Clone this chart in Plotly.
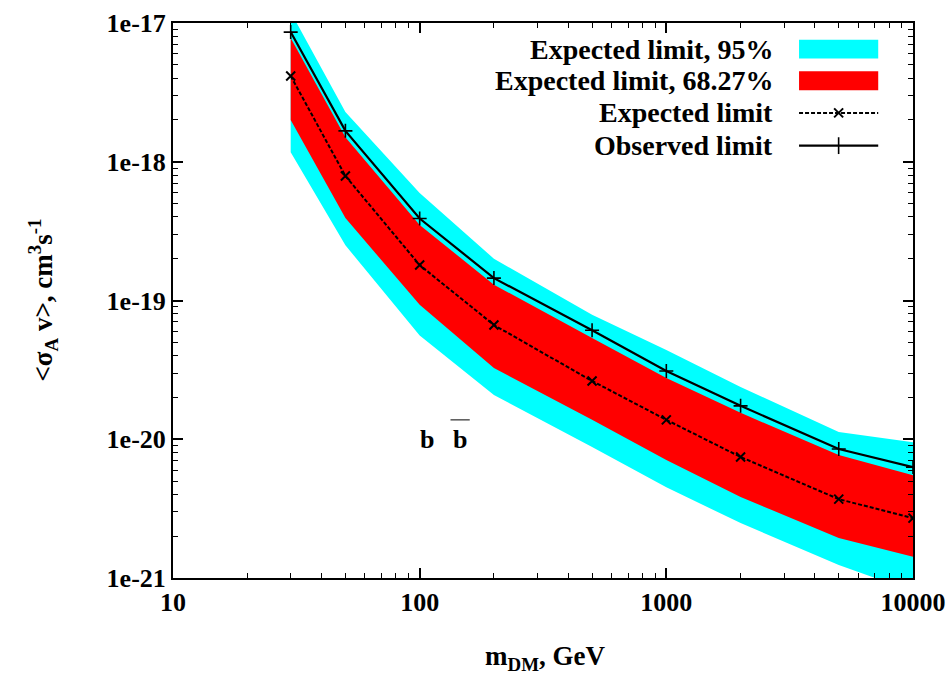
import plotly.graph_objects as go

# Upper limits on the annihilation cross-section, b b-bar channel
mass = [30, 50, 100, 200, 500, 1000, 2000, 5000, 10000]
observed = [8.6e-18, 1.67e-18, 3.9e-19, 1.45e-19, 6.1e-20, 3.1e-20, 1.74e-20, 8.5e-21, 6.3e-21]
expected = [4.15e-18, 7.9e-19, 1.8e-19, 6.66e-20, 2.63e-20, 1.38e-20, 7.45e-21, 3.7e-21, 2.7e-21]
band95_hi = [1.2e-17, 2.28e-18, 5.95e-19, 2.0e-19, 7.9e-20, 4.4e-20, 2.38e-20, 1.13e-20, 9.5e-21]
band68_hi = [7.8e-18, 1.5e-18, 3.5e-19, 1.3e-19, 5.37e-20, 2.76e-20, 1.55e-20, 7.7e-21, 5.5e-21]
band68_lo = [2.0e-18, 3.93e-19, 9.3e-20, 3.26e-20, 1.38e-20, 7.1e-21, 3.84e-21, 1.94e-21, 1.42e-21]
band95_lo = [1.17e-18, 2.5e-19, 5.6e-20, 2.08e-20, 8.8e-21, 4.5e-21, 2.49e-21, 1.24e-21, 8e-22]

x_ticks = [10, 100, 1000, 10000]
x_ticktext = ["10", "100", "1000", "10000"]
y_ticks = [1e-21, 1e-20, 1e-19, 1e-18, 1e-17]
y_ticktext = ["1e-21", "1e-20", "1e-19", "1e-18", "1e-17"]

legend_labels = ["Expected limit, 95%", "Expected limit, 68.27%", "Expected limit", "Observed limit"]

CYAN = "#00ffff"
RED = "#ff0000"
FONT = "Liberation Serif"
DASH = "4px,2px"

fig = go.Figure()

# 95% band
fig.add_trace(go.Scatter(x=mass, y=band95_lo, mode="lines", line=dict(width=0, color=CYAN),
                         showlegend=False, hoverinfo="skip"))
fig.add_trace(go.Scatter(x=mass, y=band95_hi, mode="lines", line=dict(width=0, color=CYAN),
                         fill="tonexty", fillcolor=CYAN, showlegend=False, hoverinfo="skip"))
# 68.27% band
fig.add_trace(go.Scatter(x=mass, y=band68_lo, mode="lines", line=dict(width=0, color=RED),
                         showlegend=False, hoverinfo="skip"))
fig.add_trace(go.Scatter(x=mass, y=band68_hi, mode="lines", line=dict(width=0, color=RED),
                         fill="tonexty", fillcolor=RED, showlegend=False, hoverinfo="skip"))
# Expected limit
fig.add_trace(go.Scatter(x=mass, y=expected, mode="lines+markers",
                         line=dict(color="black", width=2, dash=DASH),
                         marker=dict(symbol="x-thin", size=9, line=dict(color="black", width=2)),
                         showlegend=False))
# Observed limit
fig.add_trace(go.Scatter(x=mass, y=observed, mode="lines+markers",
                         line=dict(color="black", width=2.2),
                         marker=dict(symbol="cross-thin", size=10, line=dict(color="black", width=1.6)),
                         showlegend=False))

def minor_vals(lo_exp, hi_exp):
    return [m * 10 ** e for e in range(lo_exp, hi_exp) for m in range(2, 10)]

axis_common = dict(
    type="log", showgrid=False, zeroline=False,
    showline=True, linecolor="black", linewidth=2, mirror="allticks",
    ticks="inside", ticklen=10, tickwidth=1.5, tickcolor="black",
    tickfont=dict(family=FONT, size=26, color="black", weight="bold"),
    tickmode="array", automargin=False,
)

fig.update_xaxes(range=[1, 4], tickvals=x_ticks, ticktext=x_ticktext,
                 minor=dict(tickmode="array", tickvals=minor_vals(1, 4), ticks="inside",
                            ticklen=5, tickwidth=1.2, tickcolor="black", showgrid=False),
                 **axis_common)
fig.update_yaxes(range=[-21, -17], tickvals=y_ticks, ticktext=y_ticktext,
                 minor=dict(tickmode="array", tickvals=minor_vals(-21, -17), ticks="inside",
                            ticklen=5, tickwidth=1.2, tickcolor="black", showgrid=False),
                 **axis_common)

bold = lambda s: dict(family=FONT, size=s, color="black", weight="bold")

annotations = [
    dict(text="m<sub>DM</sub>, GeV", xref="paper", yref="paper", x=0.503, y=-0.145,
         showarrow=False, font=bold(27), xanchor="center", yanchor="middle"),
    dict(text="&lt;σ<sub>A</sub> v&gt;, cm<sup>3</sup>s<sup>-1</sup>", xref="paper", yref="paper",
         x=-0.177, y=0.5, showarrow=False, textangle=-90, font=bold(27),
         xanchor="center", yanchor="middle"),
    dict(text="b", xref="paper", yref="paper", x=0.343, y=0.249, showarrow=False,
         font=bold(26), xanchor="center", yanchor="middle"),
    dict(text="b", xref="paper", yref="paper", x=0.388, y=0.249, showarrow=False,
         font=bold(26), xanchor="center", yanchor="middle"),
]

# Key, right-aligned labels with samples to their right
row_y = [0.953, 0.896, 0.838, 0.779]
for label, ry in zip(legend_labels, row_y):
    annotations.append(dict(text=label, xref="paper", yref="paper", x=0.814, y=ry,
                            showarrow=False, font=bold(28), xanchor="right", yanchor="middle"))

shapes = [
    # overbar of the anti-quark
    dict(type="line", xref="paper", yref="paper", x0=0.375, x1=0.401, y0=0.285, y1=0.285,
         line=dict(color="#555555", width=1.5)),
    dict(type="rect", xref="paper", yref="paper", x0=0.846, x1=0.953,
         y0=row_y[0] - 0.017, y1=row_y[0] + 0.017, fillcolor=CYAN, line=dict(width=0)),
    dict(type="rect", xref="paper", yref="paper", x0=0.846, x1=0.953,
         y0=row_y[1] - 0.017, y1=row_y[1] + 0.017, fillcolor=RED, line=dict(width=0)),
    dict(type="line", xref="paper", yref="paper", x0=0.846, x1=0.953, y0=row_y[2], y1=row_y[2],
         line=dict(color="black", width=2, dash=DASH)),
    dict(type="line", xref="paper", yref="paper", x0=0.846, x1=0.953, y0=row_y[3], y1=row_y[3],
         line=dict(color="black", width=2.2)),
]

# legend sample markers
fig.add_trace(go.Scatter(x=[0.8995], y=[row_y[2]], xaxis="x2", yaxis="y2", mode="markers",
                         marker=dict(symbol="x-thin", size=9, line=dict(color="black", width=2)),
                         showlegend=False, hoverinfo="skip"))
fig.add_trace(go.Scatter(x=[0.8995], y=[row_y[3]], xaxis="x2", yaxis="y2", mode="markers",
                         marker=dict(symbol="line-ns", size=12, line=dict(color="black", width=1.6)),
                         showlegend=False, hoverinfo="skip"))

fig.update_layout(
    width=949, height=674,
    margin=dict(l=173, r=36, t=23, b=96),
    paper_bgcolor="white", plot_bgcolor="white",
    annotations=annotations, shapes=shapes,
    xaxis2=dict(overlaying="x", range=[0, 1], visible=False),
    yaxis2=dict(overlaying="y", range=[0, 1], visible=False),
)

fig.write_html("out.html")
